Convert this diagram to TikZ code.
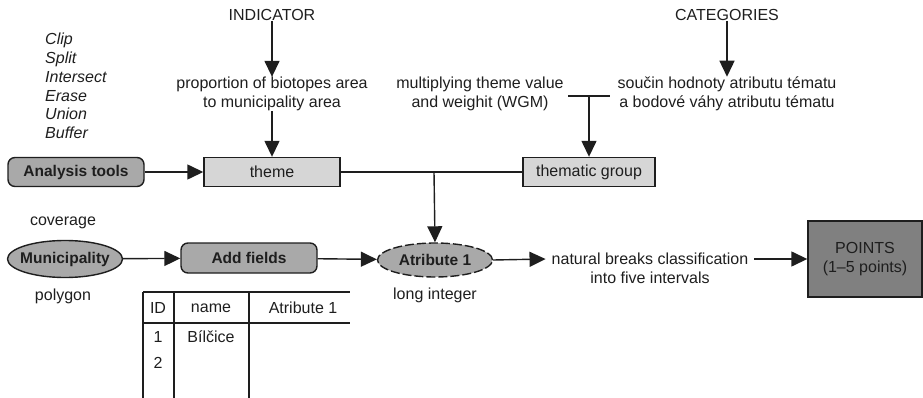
\documentclass[tikz,border=0pt]{standalone}
\usepackage{fontspec}
\setmainfont{Liberation Sans}
\usetikzlibrary{shapes.geometric,arrows.meta}
\definecolor{toolgray}{HTML}{A9A9A9}
\definecolor{themegray}{HTML}{D6D6D6}
\definecolor{ptgray}{HTML}{808080}
\definecolor{txt}{HTML}{1E1E1E}
\begin{document}
\begin{tikzpicture}[x=1pt,y=-1pt,
  every node/.style={font=\fontsize{16}{19}\selectfont, text=txt},
  lbl/.style={align=center, inner sep=0pt},
  boldlbl/.style={lbl, font=\fontsize{15.5}{19}\selectfont\bfseries},
  conn/.style={line width=1.4pt, draw=txt},
  arr/.style={conn, -{Triangle[length=16pt,width=15pt]}},
  toolbox/.style={draw=txt, line width=1.4pt, rounded corners=7pt, fill=toolgray, inner sep=0pt, font=\fontsize{15.5}{19}\selectfont\bfseries},
  flatbox/.style={draw=txt, line width=1.4pt, fill=themegray, inner sep=0pt},
  ell/.style={ellipse, draw=txt, line width=1.4pt, fill=toolgray, inner sep=0pt}
]
\useasboundingbox (0,0) rectangle (923,398);
% top labels
\node[lbl] (ind) at (272,15) {INDICATOR};
\node[lbl] (prop) at (272,94) {proportion of biotopes area\\to municipality area};
\node[lbl] (cat) at (727,15) {CATEGORIES};
\node[lbl] (souc) at (727,94) {součin hodnoty atributu tématu\\a bodové váhy atributu tématu};
\node[lbl] (mult) at (480,94) {multiplying theme value\\and weighit (WGM)};
\node[lbl, align=left, anchor=west, font=\fontsize{16}{18.7}\selectfont\itshape] (tools) at (45,86) {Clip\\Split\\Intersect\\Erase\\Union\\Buffer};
% boxes
\node[toolbox, minimum width=136pt, minimum height=29pt] (at) at (76,172) {Analysis tools};
\node[flatbox, minimum width=136pt, minimum height=29pt] (theme) at (272,172) {theme};
\node[flatbox, minimum width=132pt, minimum height=29pt] (tg) at (589,172) {thematic group};
\node[ell, minimum width=115pt, minimum height=37pt] (mun) at (65,259) {};
\node[boldlbl] (munt) at (mun) {Municipality};
\node[toolbox, minimum width=136pt, minimum height=30pt] (af) at (249,258) {Add fields};
\node[ell, dash pattern=on 9pt off 3pt, minimum width=115pt, minimum height=34pt] (atr) at (435,260) {};
\node[boldlbl] (atrt) at (atr) {Atribute 1};
\node[lbl] (cov) at (63,223) {coverage};
\node[lbl] (poly) at (63,296) {polygon};
\node[lbl] (long) at (435,295) {long integer};
\node[lbl] (nat) at (650,268) {natural breaks classification\\into five intervals};
\node[draw=txt, line width=1.4pt, fill=ptgray, minimum width=114pt, minimum height=76pt, inner sep=0pt, align=center] (pts) at (865,259) {POINTS\\(1–5 points)};
% connectors
\draw[arr] (ind) -- (prop);
\draw[arr] (prop) -- (theme);
\draw[arr] (cat) -- (souc);
\draw[arr] (at) -- (theme);
\draw[conn] (theme) -- (tg);
\coordinate (j1) at (434,172);
\draw[arr] (j1) -- (atr.north);
\coordinate (w1) at (568,96);
\coordinate (w2) at (610,96);
\coordinate (wm) at (589,96);
\draw[conn] (w1) -- (w2);
\draw[arr] (wm) -- (tg);
\draw[arr] (mun) -- (af);
\draw[arr] (af) -- (atr);
\draw[arr] (atr.east) -- ([xshift=-6pt]nat.west |- 0,259);
\draw[arr] ([xshift=6pt]nat.east |- 0,259) -- (pts.west |- 0,259);
% table
\draw[conn] (143,292) -- (350,292);
\draw[conn] (143,323) -- (350,323);
\draw[conn] (143,292) -- (143,398);
\draw[conn] (174,292) -- (174,398);
\draw[conn] (249,292) -- (249,398);
\node[lbl] (tid) at (158,308) {ID};
\node[lbl] (tname) at (211,308) {name};
\node[lbl] (tatr) at (303,308) {Atribute 1};
\node[lbl] (r1) at (158,337) {1};
\node[lbl] (r1n) at (211,337) {Bílčice};
\node[lbl] (r2) at (158,363) {2};
\end{tikzpicture}
\end{document}
